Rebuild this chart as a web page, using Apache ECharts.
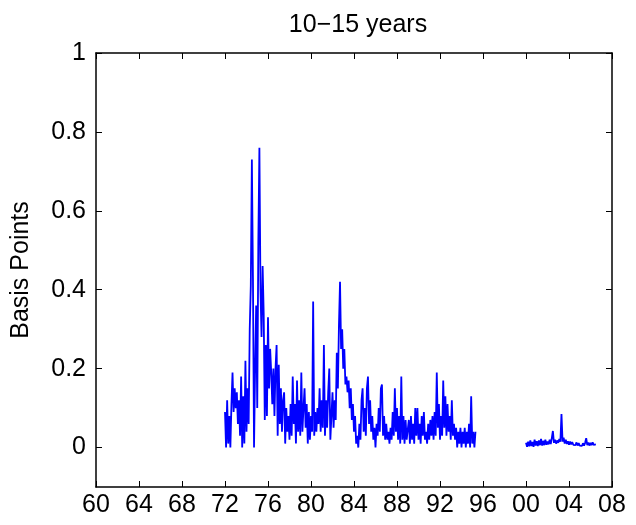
<!DOCTYPE html>
<html>
<head>
<meta charset="utf-8">
<script src="https://cdn.jsdelivr.net/npm/echarts@6/dist/echarts.min.js"></script>
<style>
  html, body { margin: 0; padding: 0; background: #fff; }
  #chart { width: 636px; height: 525px; }
</style>
</head>
<body>
<div id="chart"></div>
<script>
// Daily spread readings (basis points), sampled every 0.1 year.
const seg1Start = 1972.0;
const seg1 = [
  0.09, 0.00, 0.12, 0.01, 0.08, 0.00, 0.11, 0.19, 0.09, 0.15,
  0.10, 0.14, 0.06, 0.12, 0.03, 0.18, 0.00, 0.13, 0.01, 0.22,
  0.04, 0.15, 0.06, 0.30, 0.41, 0.73, 0.43, 0.00, 0.20, 0.36,
  0.10, 0.52, 0.76, 0.40, 0.28, 0.46, 0.34, 0.07, 0.26, 0.08,
  0.33, 0.15, 0.25, 0.19, 0.11, 0.20, 0.08, 0.20, 0.26, 0.03,
  0.21, 0.06, 0.15, 0.04, 0.12, 0.14, 0.01, 0.10, 0.04, 0.08,
  0.02, 0.11, 0.03, 0.18, 0.06, 0.11, 0.01, 0.17, 0.04, 0.12,
  0.03, 0.19, 0.04, 0.10, 0.15, 0.05, 0.11, 0.01, 0.09, 0.02,
  0.08, 0.04, 0.37, 0.03, 0.09, 0.04, 0.10, 0.06, 0.15, 0.04,
  0.12, 0.05, 0.26, 0.03, 0.12, 0.05, 0.14, 0.20, 0.02, 0.08,
  0.14, 0.05, 0.12, 0.07, 0.24, 0.15, 0.31, 0.42, 0.25, 0.30,
  0.20, 0.25, 0.16, 0.18, 0.14, 0.17, 0.10, 0.15, 0.07, 0.11,
  0.04, 0.08, 0.01, 0.03, 0.00, 0.06, 0.02, 0.12, 0.15, 0.04,
  0.10, 0.03, 0.15, 0.18, 0.06, 0.12, 0.04, 0.08, 0.02, 0.05,
  0.00, 0.06, 0.03, 0.10, 0.04, 0.15, 0.16, 0.03, 0.08, 0.02,
  0.06, 0.02, 0.04, 0.01, 0.05, 0.02, 0.09, 0.03, 0.15, 0.04,
  0.10, 0.02, 0.08, 0.01, 0.18, 0.02, 0.08, 0.01, 0.07, 0.02,
  0.02, 0.07, 0.01, 0.08, 0.02, 0.06, 0.01, 0.10, 0.03, 0.10,
  0.02, 0.06, 0.01, 0.08, 0.03, 0.09, 0.02, 0.04, 0.01, 0.06,
  0.02, 0.07, 0.03, 0.08, 0.02, 0.09, 0.03, 0.19, 0.05, 0.11,
  0.02, 0.08, 0.03, 0.17, 0.05, 0.13, 0.03, 0.11, 0.04, 0.08,
  0.02, 0.12, 0.03, 0.06, 0.02, 0.05, 0.00, 0.04, 0.01, 0.05,
  0.00, 0.04, 0.01, 0.05, 0.00, 0.04, 0.01, 0.06, 0.00, 0.13,
  0.01, 0.04, 0.00, 0.04
];

const seg2Start = 2000.0;
const seg2 = [
  0.012, 0.002, 0.015, 0.003, 0.018, 0.004, 0.014, 0.002, 0.020, 0.005,
  0.016, 0.004, 0.018, 0.006, 0.022, 0.005, 0.017, 0.006, 0.020, 0.007,
  0.015, 0.008, 0.020, 0.009, 0.024, 0.042, 0.012, 0.020, 0.010, 0.018,
  0.012, 0.022, 0.015, 0.085, 0.015, 0.025, 0.010, 0.020, 0.009, 0.016,
  0.007, 0.015, 0.008, 0.014, 0.007, 0.012, 0.006, 0.013, 0.005, 0.011,
  0.005, 0.010, 0.004, 0.011, 0.005, 0.012, 0.024, 0.006, 0.013, 0.005,
  0.012, 0.006, 0.013, 0.007, 0.011, 0.008
];
const sampleStep = 0.1;

const yTickValues = [0, 0.2, 0.4, 0.6, 0.8, 1];
const titleText = '10\u221215 years';
const yAxisTitle = 'Basis Points';

function toPairs(start, vals) {
  return vals.map((v, i) => [+(start + i * sampleStep).toFixed(2), v]);
}

const FONT = '"Liberation Sans", Arial, Helvetica, sans-serif';
const FS = 25;
const axisLine = { show: true, onZero: false, lineStyle: { color: '#000', width: 1.5 } };
const tickIn = { show: true, inside: true, length: 6, lineStyle: { color: '#000', width: 1 } };

const yearLabel = v => String(Math.round(v) % 100).padStart(2, '0');
const yLabel = v => (Math.abs(v) < 1e-9 ? '0' : String(+v.toFixed(1)));

const chart = echarts.init(document.getElementById('chart'), null, { renderer: 'canvas' });
chart.setOption({
  animation: false,
  backgroundColor: '#fff',
  title: {
    text: titleText,
    left: 353, top: 8, textAlign: 'center',
    textStyle: { fontFamily: FONT, fontSize: FS, fontWeight: 'normal', color: '#000' }
  },
  grid: { left: 96, right: 24, top: 53, bottom: 38, containLabel: false },
  xAxis: [
    {
      type: 'value', min: 1960, max: 2008, interval: 4, position: 'bottom',
      axisLine: axisLine, axisTick: tickIn, splitLine: { show: false },
      axisLabel: { formatter: yearLabel, fontFamily: FONT, fontSize: FS, color: '#000', margin: 6 }
    },
    {
      type: 'value', min: 1960, max: 2008, interval: 4, position: 'top',
      axisLine: axisLine, axisTick: tickIn, splitLine: { show: false },
      axisLabel: { show: false }
    }
  ],
  yAxis: [
    {
      type: 'value', min: -0.1, max: 1, interval: 0.1, position: 'left',
      name: yAxisTitle, nameLocation: 'middle', nameGap: 62, nameRotate: 90,
      nameTextStyle: { fontFamily: FONT, fontSize: FS, color: '#000' },
      axisLine: axisLine,
      axisTick: Object.assign({}, tickIn, { customValues: yTickValues }),
      splitLine: { show: false },
      axisLabel: { customValues: yTickValues, formatter: yLabel, fontFamily: FONT, fontSize: FS, color: '#000', margin: 10 }
    },
    {
      type: 'value', min: -0.1, max: 1, interval: 0.1, position: 'right',
      axisLine: axisLine,
      axisTick: Object.assign({}, tickIn, { customValues: yTickValues }),
      splitLine: { show: false }, axisLabel: { show: false }
    }
  ],
  series: [
    {
      type: 'line', data: toPairs(seg1Start, seg1), showSymbol: false,
      lineStyle: { color: '#0000ff', width: 1.8 }, itemStyle: { color: '#0000ff' }
    },
    {
      type: 'line', data: toPairs(seg2Start, seg2), showSymbol: false,
      lineStyle: { color: '#0000ff', width: 1.8 }, itemStyle: { color: '#0000ff' }
    }
  ]
});
</script>
</body>
</html>
